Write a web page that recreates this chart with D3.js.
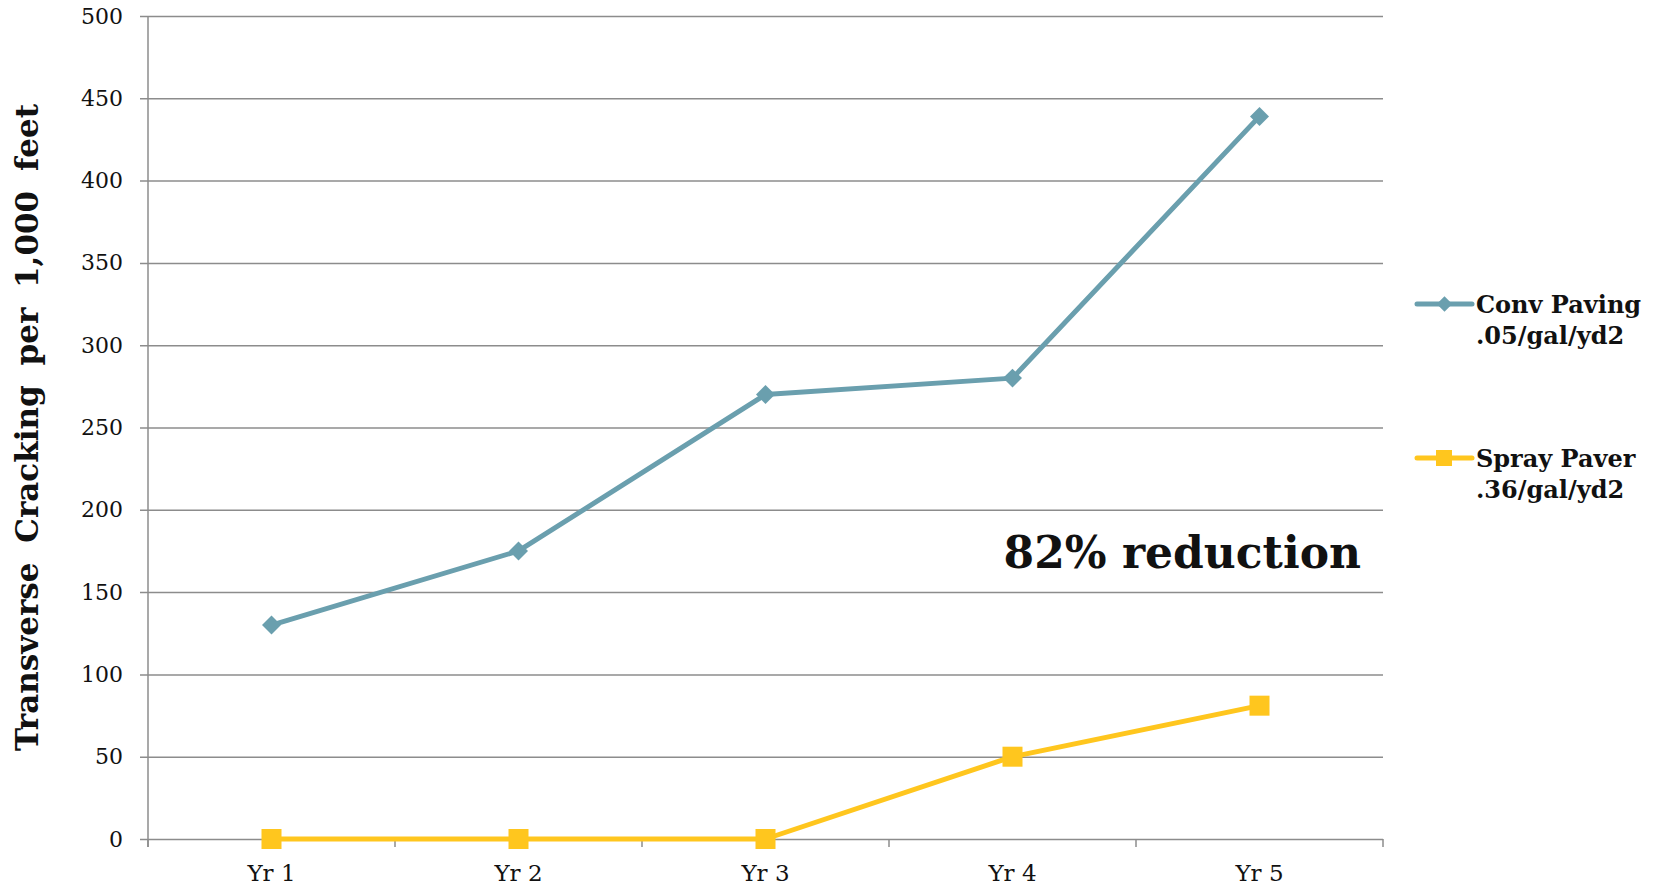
<!DOCTYPE html>
<html>
<head>
<meta charset="utf-8">
<script src="https://d3js.org/d3.v7.min.js"></script>
<style>
  body { margin: 0; background: #fff; }
  svg text { font-family: "DejaVu Serif", Georgia, serif; }
</style>
</head>
<body>
<div id="chart"></div>
<script>
// Data
var years = ["Yr 1", "Yr 2", "Yr 3", "Yr 4", "Yr 5"];
var conv_paving = [130, 175, 270, 280, 439];
var spray_paver = [0, 0, 0, 50, 81];
var y_ticks = [0, 50, 100, 150, 200, 250, 300, 350, 400, 450, 500];
var series_names = [["Conv Paving", ".05/gal/yd2"], ["Spray Paver", ".36/gal/yd2"]];

var width = 1657,
    height = 887,
    margin = {left: 148, right: 274, top: 16, bottom: 48};

var teal = "#6a9fae",
    yellow = "#ffc61e",
    grid = "#8c8c8c";

var svg = d3.select("#chart").append("svg")
    .attr("width", width)
    .attr("height", height);

var x = d3.scaleBand()
    .domain(years)
    .range([margin.left, width - margin.right]);

var y = d3.scaleLinear()
    .domain([0, 500])
    .range([height - margin.bottom, margin.top]);

// gridlines + y axis
var yAxis = d3.axisLeft(y)
    .tickValues(y_ticks)
    .tickSize(-(width - margin.left - margin.right))
    .tickPadding(25);

var gy = svg.append("g")
    .attr("transform", "translate(" + margin.left + ",0)")
    .call(yAxis);
gy.select(".domain").remove();
gy.selectAll(".tick line")
    .attr("x1", -8)
    .attr("stroke", grid)
    .attr("stroke-width", 1.5);
gy.selectAll(".tick text")
    .attr("font-size", 22)
    .attr("fill", "#111");

// y axis line
svg.append("line")
    .attr("x1", margin.left).attr("x2", margin.left)
    .attr("y1", y(500)).attr("y2", y(0) + 8)
    .attr("stroke", grid).attr("stroke-width", 1.5);

// x axis
var xAxis = d3.axisBottom(x).tickSize(0).tickPadding(26);
var gx = svg.append("g")
    .attr("transform", "translate(0," + y(0) + ")")
    .call(xAxis);
gx.select(".domain").remove();
gx.selectAll(".tick text")
    .attr("font-size", 23)
    .attr("fill", "#111");

// boundary ticks between categories
svg.selectAll(".xb")
    .data(d3.range(years.length + 1))
    .enter().append("line")
    .attr("class", "xb")
    .attr("x1", i => x(years[0]) + i * x.step())
    .attr("x2", i => x(years[0]) + i * x.step())
    .attr("y1", y(0))
    .attr("y2", y(0) + 8)
    .attr("stroke", grid).attr("stroke-width", 1.5);

// y title
svg.append("text")
    .attr("transform", "translate(38," + ((y(500) + y(0)) / 2) + ") rotate(-90)")
    .attr("text-anchor", "middle")
    .attr("font-size", 31)
    .attr("font-weight", "bold")
    .attr("word-spacing", 9)
    .attr("fill", "#111")
    .text("Transverse Cracking per 1,000 feet");

var line = d3.line()
    .x((d, i) => x(years[i]) + x.bandwidth() / 2)
    .y(d => y(d));

// Conv paving
svg.append("path")
    .datum(conv_paving)
    .attr("d", line)
    .attr("fill", "none")
    .attr("stroke", teal)
    .attr("stroke-width", 5)
    .attr("stroke-linejoin", "round");

var diamond = d3.symbol().type(d3.symbolSquare).size(180);
svg.selectAll(".conv")
    .data(conv_paving)
    .enter().append("path")
    .attr("class", "conv")
    .attr("d", diamond)
    .attr("transform", (d, i) => "translate(" + (x(years[i]) + x.bandwidth() / 2) + "," + y(d) + ") rotate(45)")
    .attr("fill", teal);

// Spray paver
svg.append("path")
    .datum(spray_paver)
    .attr("d", line)
    .attr("fill", "none")
    .attr("stroke", yellow)
    .attr("stroke-width", 5)
    .attr("stroke-linejoin", "round");

svg.selectAll(".spray")
    .data(spray_paver)
    .enter().append("rect")
    .attr("class", "spray")
    .attr("x", (d, i) => x(years[i]) + x.bandwidth() / 2 - 10)
    .attr("y", d => y(d) - 10)
    .attr("width", 20)
    .attr("height", 20)
    .attr("fill", yellow);

// annotation
svg.append("text")
    .attr("x", 1361)
    .attr("y", 568)
    .attr("text-anchor", "end")
    .attr("font-size", 44)
    .attr("font-weight", "bold")
    .attr("fill", "#111")
    .text("82% reduction");

// legend
var legend = svg.selectAll(".legend")
    .data(series_names)
    .enter().append("g")
    .attr("class", "legend")
    .attr("transform", (d, i) => "translate(1417," + (304 + i * 154) + ")");

legend.append("line")
    .attr("x1", 0).attr("x2", 55)
    .attr("stroke", (d, i) => i == 0 ? teal : yellow)
    .attr("stroke-width", 5)
    .attr("stroke-linecap", "round");

legend.filter((d, i) => i == 0).append("path")
    .attr("d", d3.symbol().type(d3.symbolSquare).size(120))
    .attr("transform", "translate(27.5,0) rotate(45)")
    .attr("fill", teal);

legend.filter((d, i) => i == 1).append("rect")
    .attr("x", 19).attr("y", -8)
    .attr("width", 16).attr("height", 16)
    .attr("fill", yellow);

legend.append("text")
    .attr("x", 59)
    .attr("y", 9)
    .attr("font-size", 24)
    .attr("font-weight", "bold")
    .attr("fill", "#111")
    .text(d => d[0]);

legend.append("text")
    .attr("x", 59)
    .attr("y", 40)
    .attr("font-size", 24)
    .attr("font-weight", "bold")
    .attr("fill", "#111")
    .text(d => d[1]);
</script>
</body>
</html>
